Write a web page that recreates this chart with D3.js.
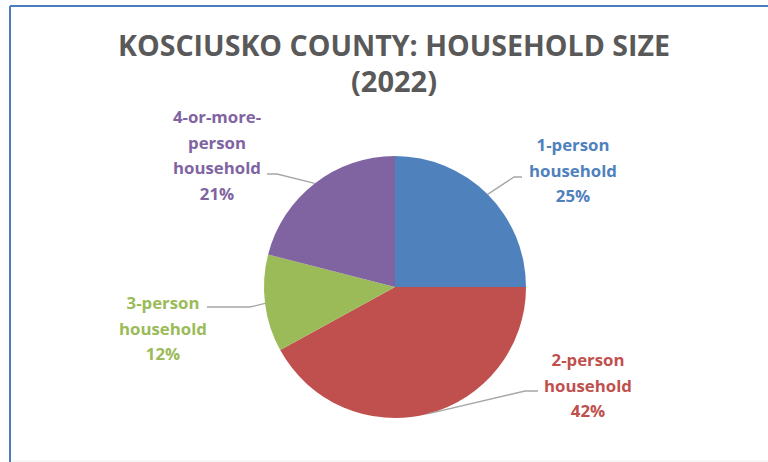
<!DOCTYPE html>
<html><head><meta charset="utf-8">
<script src="https://cdn.jsdelivr.net/npm/d3@7"></script>
<style>html,body{margin:0;padding:0;background:#fff;}svg{display:block;}</style>
</head><body>
<svg id="c" width="768" height="462"></svg>
<script>
// ---- data ----
const categories = ["1-person household", "2-person household", "3-person household", "4-or-more-person household"];
const values = [25, 42, 12, 21];
const labelLines = [["1-person", "household"], ["2-person", "household"], ["3-person", "household"], ["4-or-more-", "person", "household"]];
const titleLines = ["KOSCIUSKO COUNTY: HOUSEHOLD SIZE", "(2022)"];

// ---- styles / layout ----
const colors = ["#4F81BD", "#C0504D", "#9BBB59", "#8064A2"];
const cx = 395, cy = 287, R = 131;
// label anchor (center x, first line y), elbow point, line end point
const layout = [
  {x: 573, y: 151, elbow: [514, 177], end: [522, 177]},
  {x: 588, y: 366, elbow: [525, 391], end: [538, 391]},
  {x: 163, y: 309, elbow: [250, 307], end: [207, 307]},
  {x: 217, y: 123, elbow: [277, 174], end: [267, 174]}
];

const svg = d3.select("#c");
svg.append("rect").attr("x", 0).attr("y", 0).attr("width", 768).attr("height", 462).attr("fill", "#fff");
// frame
svg.append("line").attr("x1", 10).attr("x2", 768).attr("y1", 6).attr("y2", 6).attr("stroke", "#4A7EBB").attr("stroke-width", 2);
svg.append("line").attr("x1", 10).attr("x2", 10).attr("y1", 6).attr("y2", 462).attr("stroke", "#4A7EBB").attr("stroke-width", 2);
svg.append("line").attr("x1", 11).attr("x2", 768).attr("y1", 461).attr("y2", 461).attr("stroke", "#eeeeee").attr("stroke-width", 1);

// title
const title = svg.append("text").attr("text-anchor", "middle")
  .attr("font-family", "'Open Sans', sans-serif").attr("font-weight", "bold")
  .attr("font-size", 29).attr("fill", "#595959");
titleLines.forEach((t, i) => {
  const ts = title.append("tspan").attr("x", 394).attr("y", 56 + i * 36).text(t);
  if (i === 0) ts.attr("textLength", 552).attr("lengthAdjust", "spacingAndGlyphs");
});

// pie
const pie = d3.pie().sort(null).value(d => d)(values);
const arc = d3.arc().innerRadius(0).outerRadius(R);
const g = svg.append("g").attr("transform", `translate(${cx},${cy})`);
g.selectAll("path").data(pie).join("path").attr("d", arc).attr("fill", (d, i) => colors[i]);

// leader lines
pie.forEach((d, i) => {
  const a = (d.startAngle + d.endAngle) / 2;
  const p0 = [cx + R * Math.sin(a), cy - R * Math.cos(a)];
  const L = layout[i];
  svg.append("polyline").attr("points", [p0, L.elbow, L.end].map(p => p.join(",")).join(" "))
    .attr("fill", "none").attr("stroke", "#A6A6A6").attr("stroke-width", 1.3);
});

// labels
pie.forEach((d, i) => {
  const L = layout[i];
  const lines = labelLines[i].concat([d3.format(".0%")(d.data / d3.sum(values))]);
  const t = svg.append("text").attr("text-anchor", "middle")
    .attr("font-family", "'Open Sans', sans-serif").attr("font-weight", "bold")
    .attr("font-size", 16.8).attr("fill", colors[i]);
  lines.forEach((s, j) => t.append("tspan").attr("x", L.x).attr("y", L.y + j * 25.5).text(s));
});
</script>
</body></html>
